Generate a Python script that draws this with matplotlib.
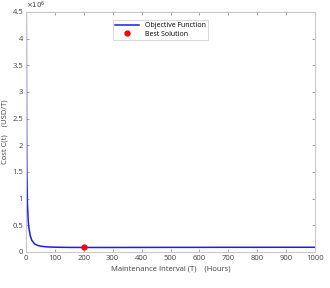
import numpy as np
import matplotlib.pyplot as plt

# data
interval_hours = [1, 2, 3, 5, 8, 10, 15, 20, 30, 40, 50, 70, 100, 150, 200,
                  300, 400, 500, 600, 700, 800, 900, 1000]
cost = [4.5e6, 2.25e6, 1.5e6, 0.9e6, 0.56e6, 0.45e6, 0.3e6, 0.22e6, 0.15e6,
        0.125e6, 0.11e6, 0.097e6, 0.09e6, 0.086e6, 0.085e6, 0.085e6, 0.086e6,
        0.087e6, 0.087e6, 0.088e6, 0.088e6, 0.089e6, 0.089e6]
best_T = [200]
best_cost = [0.085e6]

plt.rcParams['font.family'] = ['Open Sans', 'DejaVu Sans']
plt.rcParams['font.size'] = 5.5

fig = plt.figure(figsize=(3.3, 2.88), dpi=100)
ax = fig.add_axes([26/330, 36/288, 289/330, 240/288])

ax.plot(interval_hours, cost, color='#1a1aff', lw=1.1, label='Objective Function')
ax.plot(best_T, best_cost, 'o', color='#ff0000', ms=3.5, lw=0, label='Best Solution')

ax.set_xlim(0, 1000)
ax.set_ylim(0, 4.5e6)
ax.set_xticks(np.arange(0, 1001, 100))
ax.set_yticks(np.arange(0, 4.51e6, 0.5e6))
ax.set_yticklabels(['0', '0.5', '1', '1.5', '2', '2.5', '3', '3.5', '4', '4.5'])
ax.text(0, 1.005, r'$\times10^{6}$', transform=ax.transAxes, fontsize=5,
        color='#404040', va='bottom', ha='left')

for s in ax.spines.values():
    s.set_color('#c8c8c8')
    s.set_linewidth(0.8)
ax.tick_params(direction='in', length=2, width=0.5, color='#808080',
               labelcolor='#404040', top=True, right=True, pad=2)

ax.set_xlabel('Maintenance Interval (T)    (Hours)', color='#404040', labelpad=3)
ax.set_ylabel('Cost C(t)    (USD/T)', color='#404040', labelpad=3)

leg = ax.legend(loc='upper center', bbox_to_anchor=(0.465, 0.98), fontsize=5,
                frameon=True, fancybox=False, edgecolor='#c8c8c8',
                borderpad=0.3, labelspacing=0.2, handlelength=3.5)
leg.get_frame().set_linewidth(0.6)

fig.savefig('out.png', dpi=100)
